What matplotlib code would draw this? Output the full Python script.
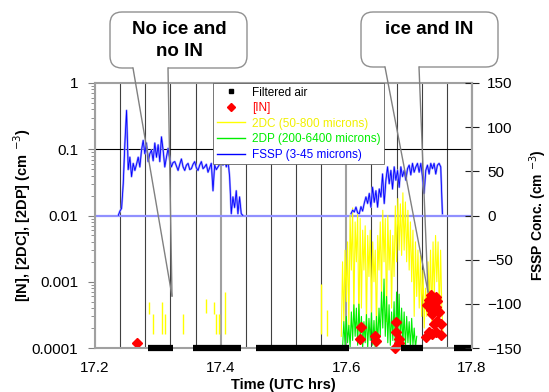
import matplotlib
matplotlib.use("Agg")
import matplotlib.pyplot as plt
import numpy as np
from matplotlib.lines import Line2D
from matplotlib.patches import FancyBboxPatch
from matplotlib.ticker import FixedLocator, FixedFormatter, LogLocator, MultipleLocator, NullFormatter

plt.rcParams['font.family'] = ['Liberation Sans', 'DejaVu Sans']

# %% Data
# FSSP (right axis, cm-3), two cloud passes
fssp1_t0, fssp1_t1 = 17.237, 17.4354
fssp1 = [0, 5, 8, 36, 82, 119, 52, 66, 44, 59,
         51, 58, 66, 55, 74, 85, 70, 82, 61, 70,
         74, 62, 82, 66, 80, 61, 89, 74, 55, 66,
         76, 63, 55, 60, 61, 56, 51, 58, 64, 55,
         51, 57, 59, 52, 53, 58, 61, 54, 51, 57,
         61, 53, 55, 58, 49, 54, 59, 28, 57, 52,
         55, 58, 61, 57, 64, 55, 63, 44, 2, 21,
         9, 28, 2, 21, 2, 0]
fssp2_t0, fssp2_t1 = 17.6074, 17.7529
fssp2 = [2, 6, 4, 9.5, 3, 2, 10, 5, 14, 21,
         13.6, 25, 9.5, 32, 15, 28, 9.5, 30, 21, 47,
         13.6, 40, 55, 36, 51, 30, 55, 40, 51, 32,
         55, 44, 51, 40, 53, 57, 46, 59, 49, 55,
         59, 49, 59, 44, 25, 51, 57, 47, 59, 53,
         59, 47, 57, 59, 55, 2]

# 2DC (left axis), dense part
dc_t0, dc_t1 = 17.592, 17.754
dc = [1.5e-4, 2.0e-3, 2.5e-4, 3.0e-3, 5e-4, 4e-3, 2e-4, 1.0e-2, 1.5e-3, 1.3e-2,
      3e-4, 8e-3, 2e-3, 1.1e-2, 1.8e-4, 9e-3, 4e-4, 6e-3, 1.5e-3, 7e-3,
      2e-4, 5e-3, 1.2e-3, 6e-3, 3e-4, 4e-3, 1e-3, 3e-3, 1.6e-4, 5e-3,
      1.5e-3, 8e-3, 6e-4, 1.2e-2, 2e-3, 9e-3, 2.5e-4, 1.0e-2, 1.5e-3, 6e-3,
      4e-4, 5e-3, 1.2e-3, 1.4e-2, 2e-3, 1.8e-2, 3e-3, 1.5e-2, 2.5e-3, 2.2e-2,
      3e-3, 1.6e-2, 2e-3, 1.2e-2, 1.5e-3, 8e-3, 1e-3, 6e-3, 3e-4, 4e-3,
      6e-4, 3e-3, 4e-4, 2.5e-3, 3e-4, 1.5e-3, 2e-4, 8e-4, 3e-4, 2e-3,
      5e-4, 3e-3, 2.5e-4, 4e-3, 6e-4, 5e-3, 1e-3, 4e-3, 3e-4, 3e-3,
      4e-4, 1.5e-4]
# 2DC, isolated short spikes (time, low, high)
dc_spike_t = [17.286, 17.293, 17.307, 17.311, 17.340, 17.376, 17.390, 17.393, 17.397, 17.407, 17.560, 17.569]
dc_spike_lo = [3.3e-4, 1.65e-4, 1.65e-4, 1.65e-4, 1.65e-4, 3.4e-4, 3.3e-4, 1.65e-4, 1.65e-4, 1.65e-4, 1.6e-4, 1.5e-4]
dc_spike_hi = [4.95e-4, 3.3e-4, 4.95e-4, 3.3e-4, 3.3e-4, 5.4e-4, 4.95e-4, 3.3e-4, 3.3e-4, 7.0e-4, 9.3e-4, 3.8e-4]

# 2DP (left axis)
dp_t0, dp_t1 = 17.594, 17.712
dp = [1.0e-4, 2.5e-4, 1.1e-4, 3.0e-4, 1.2e-4, 2.2e-4, 1.0e-4, 3.5e-4, 1.3e-4, 4.5e-4,
      1.5e-4, 4.0e-4, 1.1e-4, 4.6e-4, 1.4e-4, 3.0e-4, 1.0e-4, 2.5e-4, 1.2e-4, 3.2e-4,
      1.0e-4, 2.8e-4, 1.3e-4, 3.4e-4, 1.1e-4, 2.6e-4, 1.0e-4, 3.0e-4, 1.2e-4, 4.0e-4,
      1.5e-4, 7.0e-4, 2.0e-4, 1.1e-3, 1.5e-4, 6.0e-4, 1.2e-4, 4.5e-4, 1.1e-4, 3.5e-4,
      1.3e-4, 5.0e-4, 1.0e-4, 7.0e-4, 1.5e-4, 6.5e-4, 1.2e-4, 4.0e-4, 1.1e-4, 3.5e-4,
      1.0e-4, 3.0e-4, 1.2e-4, 2.5e-4, 1.0e-4, 2.8e-4, 1.1e-4, 2.0e-4, 1.0e-4, 1.5e-4]

# [IN] (left axis)
in_t = [17.267, 17.623, 17.622, 17.646, 17.647, 17.679, 17.679, 17.684, 17.684, 17.678,
        17.734, 17.742, 17.732, 17.745, 17.737, 17.729, 17.742, 17.734, 17.748, 17.737,
        17.745, 17.751, 17.740, 17.732, 17.726, 17.742, 17.751, 17.737]
in_val = [1.19e-4, 2.1e-4, 1.39e-4, 1.5e-4, 1.28e-4, 2.5e-4, 1.74e-4, 1.39e-4, 1.19e-4, 1.0e-4,
          6.25e-4, 5.9e-4, 5.25e-4, 5.1e-4, 4.7e-4, 4.4e-4, 4.2e-4, 3.8e-4, 3.5e-4, 3.3e-4,
          2.6e-4, 2.3e-4, 2.3e-4, 1.74e-4, 1.47e-4, 1.74e-4, 1.55e-4, 1.6e-4]

# Filtered air periods (start, end)
filt_start = [17.284, 17.356, 17.456, 17.687, 17.771]
filt_end = [17.324, 17.433, 17.605, 17.722, 17.800]

# %% Figure
fig = plt.figure(figsize=(5.49, 3.92), dpi=100)
ax = fig.add_axes([95 / 549, 1 - 348 / 392, 377 / 549, 265 / 392])
ax2 = ax.twinx()

ax.set_yscale("log")
ax.set_ylim(1e-4, 1)
ax.set_xlim(17.2, 17.8)
ax2.set_ylim(-150, 150)

# grid lines
ax.xaxis.set_major_locator(FixedLocator([17.2, 17.4, 17.6, 17.8]))
ax.xaxis.set_minor_locator(MultipleLocator(0.04))
ax.grid(axis="x", which="minor", color="#404040", lw=0.8)
ax.grid(axis="x", which="major", color="#a0a0a0", lw=1.5)
ax.axhline(0.1, color="k", lw=0.8)
ax.axhline(0.01, color="#9090ff", lw=1.6)

# 2DC, 2DP
ax.vlines(dc_spike_t, dc_spike_lo, dc_spike_hi, color="#ffff00", lw=1)
ax.plot(np.linspace(dc_t0, dc_t1, len(dc)), dc, color="#ffff00", lw=0.8)
ax.plot(np.linspace(dp_t0, dp_t1, len(dp)), dp, color="#00ee00", lw=0.8)
ax.plot(in_t, in_val, "D", color="red", ms=5.5, ls="none", clip_on=False)
ax.hlines([1e-4] * len(filt_start), filt_start, filt_end, color="k", lw=4.5,
          clip_on=False, zorder=5)

# FSSP
t1 = np.linspace(fssp1_t0, fssp1_t1, len(fssp1))
t2 = np.linspace(fssp2_t0, fssp2_t1, len(fssp2))
for t, v in [(t1, fssp1), (t2, fssp2)]:
    ax2.plot(t, v, color="#9a9aff", lw=1.5)
    ax2.plot(t, v, color="#0000ff", lw=0.6)

# axes styling
for s in ax.spines.values():
    s.set_color("#a0a0a0")
    s.set_linewidth(1.5)
for name in ("left", "bottom", "top"):
    ax2.spines[name].set_visible(False)
ax2.spines["right"].set_color("#a0a0a0")
ax2.spines["right"].set_linewidth(1.5)

ax.yaxis.set_major_locator(FixedLocator([1e-4, 1e-3, 1e-2, 0.1, 1]))
ax.yaxis.set_major_formatter(FixedFormatter(["0.0001", "0.001", "0.01", "0.1", "1"]))
ax.yaxis.set_minor_locator(LogLocator(base=10, subs=np.arange(2, 10)))
ax.yaxis.set_minor_formatter(NullFormatter())
ax.tick_params(axis="y", which="major", direction="out", length=5, color="#808080",
               labelsize=11, pad=7)
ax.tick_params(axis="y", which="minor", direction="out", length=3, color="#808080")
ax.set_xticklabels(["17.2", "17.4", "17.6", "17.8"])
ax.tick_params(axis="x", which="both", length=0, labelsize=11, pad=9)

ax2.set_yticks([-150, -100, -50, 0, 50, 100, 150])
ax2.tick_params(axis="y", direction="inout", length=10, color="#202020", labelsize=11, pad=6)

ax.set_xlabel("Time (UTC hrs)", fontsize=10.5, fontweight="bold")
ax.set_ylabel(r"[IN], [2DC], [2DP] (cm $^{-3}$)", fontsize=10.5, fontweight="bold")
ax.yaxis.set_label_coords(-0.165, 0.5)
ax.xaxis.set_label_coords(0.5, -0.112)
ax2.set_ylabel(r"FSSP Conc. (cm $^{-3}$)", fontsize=10, fontweight="bold")
ax2.yaxis.set_label_coords(1.148, 0.5)

# legend
handles = [
    Line2D([], [], marker="s", color="k", ms=3, ls="none"),
    Line2D([], [], marker="D", color="red", ms=4.5, ls="none"),
    Line2D([], [], color="#ffff00", lw=1),
    Line2D([], [], color="#00ee00", lw=1),
    Line2D([], [], color="#0000ff", lw=1),
]
labels = ["Filtered air", "[IN]", "2DC (50-800 microns)", "2DP (200-6400 microns)",
          "FSSP (3-45 microns)"]
leg = ax2.legend(handles, labels, loc="upper left", bbox_to_anchor=(0.313, 1.0),
                 fontsize=8.5, frameon=True, fancybox=False, framealpha=1,
                 edgecolor="#606060", borderaxespad=0, handlelength=2.4,
                 labelspacing=0.3, borderpad=0.3, handletextpad=0.6)
leg.get_frame().set_linewidth(0.6)
leg.set_zorder(10)
for txt, c in zip(leg.get_texts(), ["k", "red", "#f0f000", "#00ee00", "#0000ff"]):
    txt.set_color(c)


# %% Callout bubbles (figure pixels, y from top)
def P(px, py):
    return px / 100, (392 - py) / 100


def bubble(x0, y0, x1, y1, root_a, root_b, tip, lines):
    bx, by = P(x0, y1)
    box = FancyBboxPatch((bx, by), (x1 - x0) / 100, (y1 - y0) / 100,
                         boxstyle="round,pad=0,rounding_size=0.12",
                         transform=fig.dpi_scale_trans, facecolor="white",
                         edgecolor="#909090", lw=1.0, zorder=20)
    fig.add_artist(box)
    gx0, gy = P(root_a + 1, y1)
    gx1, _ = P(root_b - 1, y1)
    fig.add_artist(Line2D([gx0, gx1], [gy, gy], color="white", lw=1.6,
                          transform=fig.dpi_scale_trans, zorder=21))
    for r in (root_a, root_b):
        xa, ya = P(r, y1)
        xb, yb = P(*tip)
        fig.add_artist(Line2D([xa, xb], [ya, yb], color="#808080", lw=1.0,
                              transform=fig.dpi_scale_trans, zorder=21))
    for (tx, ty, s) in lines:
        fx_, fy_ = P(tx, ty)
        fig.text(fx_, fy_, s, transform=fig.dpi_scale_trans, ha="center", va="center",
                 fontsize=13.5, fontweight="bold", zorder=22)


bubble(110, 12, 247, 68, 133, 168, (172, 296),
       [(179, 30, "No ice and"), (179, 51, "no IN")])
bubble(361, 12, 498, 67, 385, 419, (428, 292),
       [(429, 30, "ice and IN")])

fig.savefig("out.png", dpi=100)
